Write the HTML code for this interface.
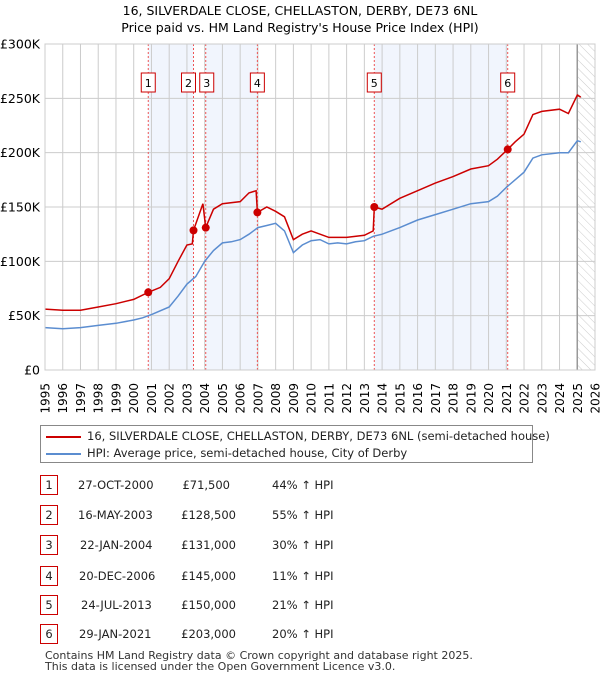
<!DOCTYPE html>
<html><head><meta charset="utf-8">
<style>
body{margin:0;width:600px;height:680px;background:#fff;font-family:"DejaVu Sans","Liberation Sans",sans-serif;color:#222;overflow:hidden}
svg{position:absolute;left:0;top:0}
#tbl span{white-space:nowrap}
</style></head>
<body>
<svg id="c" width="600" height="680" xmlns="http://www.w3.org/2000/svg">
<defs><pattern id="hatch" width="6" height="6" patternUnits="userSpaceOnUse" patternTransform="rotate(-45)"><line x1="0" y1="0" x2="0" y2="6" stroke="#ccc" stroke-width="1"/></pattern></defs>
<text x="300" y="15" text-anchor="middle" font-size="12.5">16, SILVERDALE CLOSE, CHELLASTON, DERBY, DE73 6NL</text>
<text x="300" y="32" text-anchor="middle" font-size="12.5">Price paid vs. HM Land Registry's House Price Index (HPI)</text>
<g id="plot"></g>
</svg>
<script>
const yTicks=[0,50,100,150,200,250,300];
const yTickLabels=["£0","£50K","£100K","£150K","£200K","£250K","£300K"];
const years=[1995,1996,1997,1998,1999,2000,2001,2002,2003,2004,2005,2006,2007,2008,2009,2010,2011,2012,2013,2014,2015,2016,2017,2018,2019,2020,2021,2022,2023,2024,2025,2026];
const saleDates=[2000.82,2003.37,2004.06,2006.97,2013.56,2021.08];
const salePrices=[71.5,128.5,131,145,150,203];
const saleLabels=["1","2","3","4","5","6"];
const hpiDates=[1995,1996,1997,1998,1999,2000,2000.5,2001,2002,2002.5,2003,2003.5,2004,2004.5,2005,2005.5,2006,2006.5,2007,2007.5,2008,2008.5,2009,2009.5,2010,2010.5,2011,2011.5,2012,2012.5,2013,2013.5,2014,2015,2016,2017,2018,2019,2020,2020.5,2021,2022,2022.5,2023,2024,2024.5,2025,2025.2];
const hpiValues=[39,38,39,41,43,46,48,51,58,68,79,86,100,110,117,118,120,125,131,133,135,128,108,115,119,120,116,117,116,118,119,123,125,131,138,143,148,153,155,160,168,182,195,198,200,200,211,210];
const redDates=[1995,1996,1997,1998,1999,2000,2000.82,2001.5,2002,2002.5,2003,2003.3,2003.37,2003.9,2004.06,2004.5,2005,2006,2006.5,2006.9,2006.97,2007.5,2008,2008.5,2009,2009.5,2010,2011,2012,2013,2013.5,2013.56,2014,2015,2016,2017,2018,2019,2020,2020.5,2021.08,2021.5,2022,2022.5,2023,2024,2024.5,2025,2025.2];
const redValues=[56,55,55,58,61,65,71.5,76,84,100,115,116,128.5,153,131,148,153,155,163,165,145,150,146,141,120,125,128,122,122,124,128,150,148,158,165,172,178,185,188,194,203,210,217,235,238,240,236,253,251];

const X0=45,X1=595,Y0=370,Y1=44;
const xs=y=>X0+(y-1995)*(X1-X0)/31;
const ys=v=>Y0-v*(Y0-Y1)/300;
const NS="http://www.w3.org/2000/svg";
const g=document.getElementById('plot');
function mk(t,a,p){const e=document.createElementNS(NS,t);for(const k in a)e.setAttribute(k,a[k]);(p||g).appendChild(e);return e;}
for(let i=0;i<6;i+=2){
 const r=mk('rect',{x:xs(saleDates[i]),y:Y1,width:xs(saleDates[i+1])-xs(saleDates[i]),height:Y0-Y1,fill:'#eef3fc',opacity:0.8});
 
 
}
const h=mk('rect',{x:xs(2025),y:Y1,width:X1-xs(2025),height:Y0-Y1,fill:'url(#hatch)'});


years.forEach((yr,i)=>{
 const l=mk('line',{x1:xs(yr),x2:xs(yr),y1:Y1,y2:Y0,stroke:'#ccc','stroke-width':1});
 
 
 const t=mk('text',{x:0,y:0,'font-size':12,'text-anchor':'end',transform:`translate(${xs(yr)+4.5},383) rotate(-90)`});
 t.textContent=yr;
 
 
});
yTicks.forEach((v,i)=>{
 const l=mk('line',{x1:X0,x2:X1,y1:ys(v),y2:ys(v),stroke:'#ccc','stroke-width':1});
 
 
 const t=mk('text',{x:40,y:ys(v)+4.5,'font-size':12.5,'text-anchor':'end'});
 t.textContent=yTickLabels[i];
 
 
});
const vl=mk('line',{x1:xs(2025),x2:xs(2025),y1:Y1,y2:Y0,stroke:'#999','stroke-width':1.5});


saleDates.forEach((d,i)=>{
 const l=mk('line',{x1:xs(d),x2:xs(d),y1:Y1,y2:Y0,stroke:'#e55','stroke-width':1,'stroke-dasharray':'2,2'});
 
 
 let bx=xs(d)-7; if(i==1)bx-=5; if(i==2)bx+=1;
 const r=mk('rect',{x:bx,y:73,width:14,height:19,fill:'#fff',stroke:'#c00','stroke-width':1});
 
 
 const t=mk('text',{x:bx+7,y:87,'font-size':11,'text-anchor':'middle'});
 t.textContent=saleLabels[i];
 
 
});
function pts(ds,vs){return ds.map((d,i)=>xs(d).toFixed(1)+','+ys(vs[i]).toFixed(1)).join(' ');}
const hp=mk('polyline',{points:pts(hpiDates,hpiValues),fill:'none',stroke:'#5b8dd0','stroke-width':1.5});


const rp=mk('polyline',{points:pts(redDates,redValues),fill:'none',stroke:'#cc0000','stroke-width':1.5});


saleDates.forEach((d,i)=>{
 const c=mk('circle',{cx:xs(d),cy:ys(salePrices[i]),r:4,fill:'#cc0000'});
 
 
});
const fr=mk('rect',{x:X0,y:Y1,width:X1-X0,height:Y0-Y1,fill:'none',stroke:'#ccc'});


</script>
<div style="position:absolute;left:40px;top:425px;width:491px;height:36px;border:1px solid #888;font-size:11.5px">
 <div style="position:absolute;left:5px;top:3px;white-space:nowrap"><span style="display:inline-block;width:35px;height:2px;background:#cc0000;vertical-align:middle;margin-right:6px"></span>16, SILVERDALE CLOSE, CHELLASTON, DERBY, DE73 6NL (semi-detached house)</div>
 <div style="position:absolute;left:5px;top:20px;white-space:nowrap"><span style="display:inline-block;width:35px;height:2px;background:#5b8dd0;vertical-align:middle;margin-right:6px"></span>HPI: Average price, semi-detached house, City of Derby</div>
</div>
<div id="tbl" style="position:absolute;left:0;top:0;width:600px;font-size:11.5px">
 <div><span style="position:absolute;left:40px;top:475px;width:16px;height:18px;border:1px solid #c00;text-align:center;line-height:18px">1</span><span style="position:absolute;left:78px;top:478px">27-OCT-2000</span><span style="position:absolute;left:140px;width:90px;text-align:right;top:478px">£71,500</span><span style="position:absolute;left:272px;top:478px">44% ↑ HPI</span></div>
 <div><span style="position:absolute;left:40px;top:505px;width:16px;height:18px;border:1px solid #c00;text-align:center;line-height:18px">2</span><span style="position:absolute;left:78px;top:508px">16-MAY-2003</span><span style="position:absolute;left:140px;width:96px;text-align:right;top:508px">£128,500</span><span style="position:absolute;left:272px;top:508px">55% ↑ HPI</span></div>
 <div><span style="position:absolute;left:40px;top:535px;width:16px;height:18px;border:1px solid #c00;text-align:center;line-height:18px">3</span><span style="position:absolute;left:80px;top:538px">22-JAN-2004</span><span style="position:absolute;left:140px;width:96px;text-align:right;top:538px">£131,000</span><span style="position:absolute;left:272px;top:538px">30% ↑ HPI</span></div>
 <div><span style="position:absolute;left:40px;top:566px;width:16px;height:18px;border:1px solid #c00;text-align:center;line-height:18px">4</span><span style="position:absolute;left:79px;top:569px">20-DEC-2006</span><span style="position:absolute;left:140px;width:96px;text-align:right;top:569px">£145,000</span><span style="position:absolute;left:272px;top:569px">11% ↑ HPI</span></div>
 <div><span style="position:absolute;left:40px;top:595px;width:16px;height:18px;border:1px solid #c00;text-align:center;line-height:18px">5</span><span style="position:absolute;left:81px;top:598px">24-JUL-2013</span><span style="position:absolute;left:140px;width:96px;text-align:right;top:598px">£150,000</span><span style="position:absolute;left:272px;top:598px">21% ↑ HPI</span></div>
 <div><span style="position:absolute;left:40px;top:624px;width:16px;height:18px;border:1px solid #c00;text-align:center;line-height:18px">6</span><span style="position:absolute;left:79px;top:627px">29-JAN-2021</span><span style="position:absolute;left:140px;width:96px;text-align:right;top:627px">£203,000</span><span style="position:absolute;left:272px;top:627px">20% ↑ HPI</span></div>
</div>
<div style="position:absolute;left:45px;top:650px;font-size:11px;line-height:11px;color:#333;white-space:nowrap">Contains HM Land Registry data © Crown copyright and database right 2025.<br>This data is licensed under the Open Government Licence v3.0.</div>
</body></html>
